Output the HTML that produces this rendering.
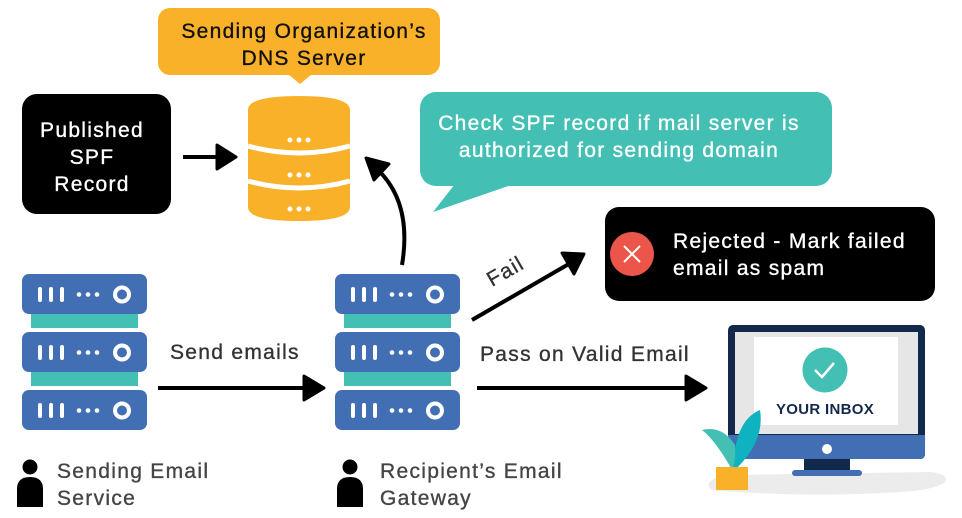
<!DOCTYPE html>
<html><head><meta charset="utf-8"><style>
html,body{margin:0;padding:0;background:#fff}
svg{display:block}
text{font-family:"Liberation Sans",sans-serif;font-size:21px;letter-spacing:1.3px;stroke-width:0.35px}
</style></head><body>
<svg width="962" height="518" viewBox="0 0 962 518" xmlns="http://www.w3.org/2000/svg">
<defs>
<g id="unit">
<rect x="0" y="0" width="125" height="40" rx="7" fill="#426fb3"/>
<rect x="16" y="13" width="4" height="15" rx="2" fill="#fff"/>
<rect x="27" y="13" width="4" height="15" rx="2" fill="#fff"/>
<rect x="38" y="13" width="4" height="15" rx="2" fill="#fff"/>
<circle cx="57" cy="20.5" r="2.3" fill="#fff"/>
<circle cx="66" cy="20.5" r="2.3" fill="#fff"/>
<circle cx="75" cy="20.5" r="2.3" fill="#fff"/>
<circle cx="100" cy="20.5" r="7" fill="none" stroke="#fff" stroke-width="4"/>
</g>
<g id="stack">
<rect x="9" y="38" width="107" height="16" fill="#43bfb4"/>
<rect x="9" y="96" width="107" height="16" fill="#43bfb4"/>
<use href="#unit" x="0" y="0"/>
<use href="#unit" x="0" y="58"/>
<use href="#unit" x="0" y="116"/>
</g>
<g id="person">
<circle cx="0" cy="0" r="7.5" fill="#000"/>
<path d="M-13 40 L-13 22 Q-13 10 0 10 Q13 10 13 22 L13 40 Z" fill="#000"/>
</g>
</defs>

<!-- orange bubble -->
<rect x="158" y="8" width="282" height="67" rx="12" fill="#f9b12a"/>
<polygon points="288,74 312,74 300,84" fill="#f9b12a"/>
<text x="304" y="38" text-anchor="middle" fill="#111" stroke="#111">Sending Organization’s</text>
<text x="304" y="65" text-anchor="middle" fill="#111" stroke="#111">DNS Server</text>

<!-- published box -->
<rect x="22" y="94" width="149" height="120" rx="15" fill="#000"/>
<text x="92" y="137" text-anchor="middle" fill="#fff" stroke="#fff">Published</text>
<text x="92" y="164" text-anchor="middle" fill="#fff" stroke="#fff">SPF</text>
<text x="92" y="191" text-anchor="middle" fill="#fff" stroke="#fff">Record</text>
<line x1="183" y1="157" x2="222" y2="157" stroke="#000" stroke-width="4"/>
<polygon points="217,145 236,157 217,169" fill="#000" stroke="#000" stroke-width="3" stroke-linejoin="round"/>

<!-- DB -->
<path d="M248 110 Q248 96 299 96 Q350 96 350 110 L350 207 Q350 221 299 221 Q248 221 248 207 Z" fill="#f9b12a"/>
<path d="M248 146 Q299 160 350 146" fill="none" stroke="#fff" stroke-width="5"/>
<path d="M248 181 Q299 195 350 181" fill="none" stroke="#fff" stroke-width="5"/>
<g fill="#fff">
<circle cx="290" cy="140" r="2.5"/><circle cx="299" cy="140" r="2.5"/><circle cx="308" cy="140" r="2.5"/>
<circle cx="290" cy="175" r="2.5"/><circle cx="299" cy="175" r="2.5"/><circle cx="308" cy="175" r="2.5"/>
<circle cx="290" cy="209" r="2.5"/><circle cx="299" cy="209" r="2.5"/><circle cx="308" cy="209" r="2.5"/>
</g>

<!-- curved arrow -->
<path d="M402 265 Q412 205 380 172" fill="none" stroke="#000" stroke-width="4"/>
<polygon points="366,158 389,164 374,180" fill="#000" stroke="#000" stroke-width="3" stroke-linejoin="round"/>

<!-- teal bubble -->
<rect x="420" y="92" width="412" height="94" rx="16" fill="#43bfb4"/>
<polygon points="455,184 514,184 433,212" fill="#43bfb4"/>
<text x="619" y="130" text-anchor="middle" fill="#fff" stroke="#fff">Check SPF record if mail server is</text>
<text x="619" y="157" text-anchor="middle" fill="#fff" stroke="#fff">authorized for sending domain</text>

<!-- rejected -->
<rect x="605" y="207" width="330" height="94" rx="14" fill="#000"/>
<circle cx="632" cy="254" r="22" fill="#ec554a"/>
<path d="M624 246 L640 262 M640 246 L624 262" stroke="#fff" stroke-width="2"/>
<text x="673" y="248" fill="#fff" stroke="#fff">Rejected - Mark failed</text>
<text x="673" y="275" fill="#fff" stroke="#fff">email as spam</text>

<!-- fail arrow -->
<line x1="472" y1="320" x2="574" y2="261" stroke="#000" stroke-width="4"/>
<polygon points="562,253 584,254 574,274" fill="#000" stroke="#000" stroke-width="3" stroke-linejoin="round"/>
<text x="0" y="0" fill="#333" stroke="#333" transform="translate(492,287) rotate(-30)">Fail</text>

<!-- servers -->
<use href="#stack" x="22" y="274"/>
<use href="#stack" x="335" y="274"/>

<!-- send arrow -->
<text x="170" y="359" fill="#333" stroke="#333">Send emails</text>
<line x1="158" y1="388" x2="312" y2="388" stroke="#000" stroke-width="4"/>
<polygon points="304,376 324,388 304,400" fill="#000" stroke="#000" stroke-width="3" stroke-linejoin="round"/>

<!-- pass arrow -->
<text x="480" y="361" fill="#333" stroke="#333">Pass on Valid Email</text>
<line x1="477" y1="388" x2="694" y2="388" stroke="#000" stroke-width="4"/>
<polygon points="686,376 706,388 686,400" fill="#000" stroke="#000" stroke-width="3" stroke-linejoin="round"/>

<!-- monitor -->
<path d="M712 490 Q700 480 730 475 L930 472 Q950 474 945 482 Q935 490 900 492 Q800 498 712 490 Z" fill="#ececec"/>
<rect x="728" y="325" width="197" height="134" rx="5" fill="#13294b"/>
<rect x="735" y="332" width="183" height="102" fill="#e6e6e6"/>
<rect x="754" y="337" width="144" height="88" fill="#fff"/>
<path d="M728 435 L925 435 L925 454 Q925 459 920 459 L733 459 Q728 459 728 454 Z" fill="#426fb3"/>
<circle cx="827" cy="449" r="5" fill="#fff"/>
<rect x="804" y="459" width="46" height="11" fill="#13294b"/>
<rect x="792" y="470" width="70" height="6" rx="3" fill="#426fb3"/>
<circle cx="825" cy="370" r="22.5" fill="#43bfb4"/>
<path d="M815 370 L822 377 L834 363" fill="none" stroke="#fff" stroke-width="2.5"/>
<text x="825" y="414" style="font-size:15px;letter-spacing:0.3px" font-weight="bold" text-anchor="middle" fill="#13294b">YOUR INBOX</text>
<!-- plant -->
<path d="M733 468 Q735 420 760 410 Q765 440 737 468 Z" fill="#0fb3bf"/>
<path d="M731 468 Q715 440 702 430 Q722 425 735 445 Q736 458 733 468 Z" fill="#43bfb4"/>
<rect x="716" y="467" width="32" height="23" fill="#f9b12a"/>

<!-- persons -->
<use href="#person" x="30" y="467"/>
<text x="57" y="478" fill="#444" stroke="#444">Sending Email</text>
<text x="57" y="505" fill="#444" stroke="#444">Service</text>
<use href="#person" x="350" y="467"/>
<text x="380" y="478" fill="#444" stroke="#444">Recipient’s Email</text>
<text x="380" y="505" fill="#444" stroke="#444">Gateway</text>
</svg>
</body></html>
